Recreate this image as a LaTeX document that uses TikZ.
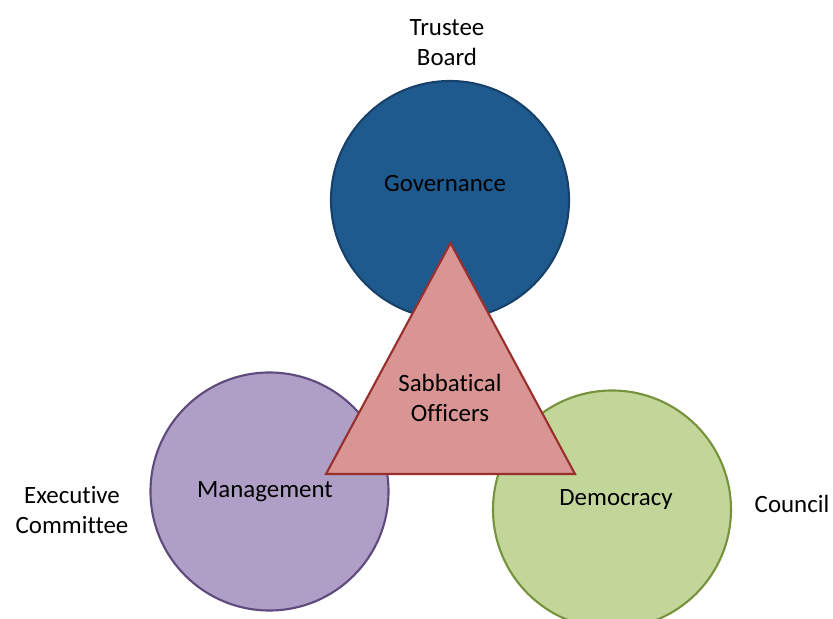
\documentclass[tikz,border=0pt]{standalone}
\usepackage{fontspec}
\setmainfont[Ligatures=NoCommon]{Carlito}
\definecolor{govfill}{HTML}{1F5A8F}
\definecolor{govline}{HTML}{17406A}
\definecolor{manfill}{HTML}{AF9FC6}
\definecolor{manline}{HTML}{5E4A7C}
\definecolor{demfill}{HTML}{C2D69A}
\definecolor{demline}{HTML}{76923C}
\definecolor{sabfill}{HTML}{D99594}
\definecolor{sabline}{HTML}{982F2D}
\tikzset{
  area/.style={circle,line width=1.8pt,minimum size=7.14cm,inner sep=0pt},
  lbl/.style={align=center,font=\fontsize{21.25}{25.5}\selectfont,inner sep=0pt}
}
\begin{document}
\begin{tikzpicture}[x=0.03cm,y=-0.03cm]
                \useasboundingbox (0,0) rectangle (833,619);
                \clip (0,0) rectangle (833,619);
                \node[area,draw=govline,fill=govfill] (gov) at (450,200) {};
                \node[area,draw=manline,fill=manfill] (man) at (269.5,491.5) {};
                \node[area,draw=demline,fill=demfill] (dem) at (612,509.5) {};
                \coordinate (top) at (450.5,243);
                \coordinate (left) at (326,474);
                \coordinate (right) at (575,474);
                \draw[line width=1.8pt,line join=miter,draw=sabline,fill=sabfill] (top) -- (left) -- (right) -- cycle;
                \node[lbl] (govtext) at (445,184) {Governance};
                \node[lbl] (mantext) at (265,492) {Management};
                \node[lbl] (demtext) at (616,500) {Democracy};
                \node[lbl] (sabtext) at (450,398) {Sabbatical\\Officers};
                \node[lbl] (trustee) at (447,43) {Trustee\\Board};
                \node[lbl] (exec) at (72,510) {Executive\\Committee};
                \node[lbl] (council) at (792,504) {Council};
            \end{tikzpicture}
\end{document}
